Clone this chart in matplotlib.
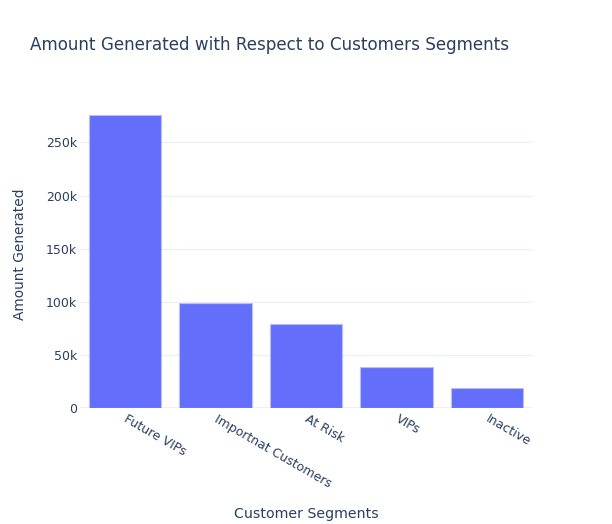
import matplotlib
matplotlib.use("Agg")
import matplotlib.pyplot as plt

# data
segments = ["Future VIPs", "Importnat Customers", "At Risk", "VIPs", "Inactive"]
amounts = [275700, 99000, 78900, 39100, 18800]
ytick_vals = [0, 50000, 100000, 150000, 200000, 250000]
ytick_labels = ["0", "50k", "100k", "150k", "200k", "250k"]

txt = "#2a3f5f"
grid = "#ebf0f8"

plt.rcParams['font.family'] = ['DejaVu Sans']

fig = plt.figure(figsize=(6.12, 5.24), dpi=100)
ax = fig.add_axes([80 / 612, 115.7 / 524, 452 / 612, 309 / 524])

x = range(len(segments))
ax.bar(x, amounts, width=0.8, color="#636efa", edgecolor="#b9bffc", linewidth=0.8, zorder=3)

ax.set_xlim(-0.5, len(segments) - 0.5)
ax.set_ylim(0, max(amounts) * 1.054)
ax.set_yticks(ytick_vals)
ax.set_yticklabels(ytick_labels, color=txt, fontsize=9)
ax.set_xticks(list(x))
ax.set_xticklabels(segments, color=txt, fontsize=9, rotation=-30, ha="left",
                   rotation_mode="anchor", va="center")
ax.tick_params(axis="both", length=0)
ax.tick_params(axis="y", pad=2)
ax.tick_params(axis="x", pad=7)

ax.grid(axis="y", color=grid, linewidth=1, zorder=0)
ax.axhline(0, color=grid, linewidth=2, zorder=1)
for s in ax.spines.values():
    s.set_visible(False)

ax.set_ylabel("Amount Generated", color=txt, fontsize=9.9)
ax.yaxis.set_label_coords(-(80 - 27) / 452, 0.5)
ax.set_xlabel("Customer Segments", color=txt, fontsize=10.2)
ax.xaxis.set_label_coords(0.5, -(507 - 408.3) / 309)

fig.text(30 / 612, 1 - 45 / 524, "Amount Generated with Respect to Customers Segments",
         color=txt, fontsize=12.1, va="center", ha="left")

fig.savefig("out.png", dpi=100)
